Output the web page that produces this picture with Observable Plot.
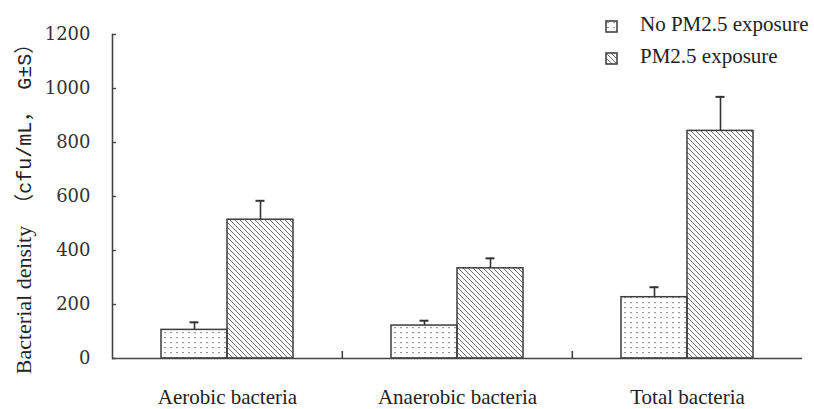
<!DOCTYPE html>
<html><head><meta charset="utf-8">
<script src="https://cdn.jsdelivr.net/npm/d3@7"></script>
<script src="https://cdn.jsdelivr.net/npm/@observablehq/plot@0.6"></script>
<style>
body{margin:0;background:#fff;}
#wrap{position:relative;width:814px;height:409px;overflow:hidden;}
#legend{position:absolute;left:605px;top:8px;font-family:"Liberation Serif",serif;font-size:21px;color:#222;line-height:32px;}
#legend .item{display:flex;align-items:center;white-space:nowrap;}
#legend svg{margin-right:21px;}
g[aria-label="y-axis tick label"] text{font-family:"DejaVu Serif",serif;}
</style></head><body>
<svg width="0" height="0" style="position:absolute">
  <defs>
    <pattern id="dots" patternUnits="userSpaceOnUse" width="6" height="5">
      <rect x="2" y="2" width="2" height="1.2" fill="#9a9a9a"></rect>
    </pattern>
    <pattern id="hatch" patternUnits="userSpaceOnUse" width="5" height="5">
      <path d="M0,0L5,5M-1,4L1,6M4,-1L6,1" stroke="#707070" stroke-width="1"></path>
    </pattern>
  </defs>
</svg>
<div id="wrap"></div>
<script>
const categories = ["Aerobic bacteria", "Anaerobic bacteria", "Total bacteria"];
const series = ["No PM2.5 exposure", "PM2.5 exposure"];
const noPM = [106, 122, 227];
const noPMErr = [28, 18, 37];
const pm = [514, 334, 843];
const pmErr = [70, 37, 126];
const yTicks = [0, 200, 400, 600, 800, 1000, 1200];
const yLabelMain = "Bacterial density";
const yLabelUnit = " （cfu/mL， G±S）";

const rows = [];
categories.forEach((c, i) => {
  rows.push({category: c, series: series[0], value: noPM[i], err: noPMErr[i]});
  rows.push({category: c, series: series[1], value: pm[i], err: pmErr[i]});
});

const chart = Plot.plot({
  width: 814, height: 409,
  marginLeft: 112, marginRight: 12, marginTop: 34, marginBottom: 51,
  style: {fontFamily: "'Liberation Serif', serif", fontSize: "21px", color: "#222", background: "#fff", overflow: "visible"},
  fx: {domain: categories, padding: 0, label: null},
  x: {domain: series, paddingInner: 0, paddingOuter: 0.742, align: 0.5, axis: null},
  y: {domain: [0, 1200], label: null},
  marks: [
    Plot.barY(rows.filter(d => d.series === series[0]), {fx: "category", x: "series", y: "value", fill: "url(#dots)", stroke: "#3c3c3c", strokeWidth: 1.5}),
    Plot.barY(rows.filter(d => d.series === series[1]), {fx: "category", x: "series", y: "value", fill: "url(#hatch)", stroke: "#3c3c3c", strokeWidth: 1.5}),
    Plot.ruleX(rows, {fx: "category", x: "series", y1: "value", y2: d => d.value + d.err, stroke: "#333", strokeWidth: 1.6}),
    Plot.tickY(rows, {fx: "category", x: "series", y: d => d.value + d.err, insetLeft: 28.5, insetRight: 28.5, stroke: "#333", strokeWidth: 2}),
    Plot.ruleY([0], {stroke: "#444", strokeWidth: 1.6}),
    Plot.frame({anchor: "left", facetAnchor: "left", stroke: "#444", strokeWidth: 1.6}),
    Plot.axisY({ticks: yTicks, tickSize: -4, tickPadding: 26, tickFormat: d3.format("d"), stroke: "#444", strokeWidth: 1.4, fontSize: 18, fill: "#333", label: null}),
    Plot.axisFx({anchor: "bottom", tickSize: 0, tickPadding: 31, fontSize: 21, fill: "#222", label: null}),
    Plot.axisFx({anchor: "bottom", ticks: categories.slice(0, 2), tickSize: -7, dx: 114.8, tickFormat: () => "", stroke: "#444", strokeWidth: 1.6, label: null})
  ]
});

const svg = d3.select(chart);
svg.selectAll('g[aria-label="y-axis tick label"]').attr("font-family", "'DejaVu Serif', serif");
const t = svg.append("text")
  .attr("transform", "translate(31,204) rotate(-90)")
  .attr("text-anchor", "middle")
  .attr("fill", "#222");
t.append("tspan").attr("font-family", "'Liberation Serif', serif").attr("font-size", 22).text(yLabelMain);
t.append("tspan").attr("font-family", "'Liberation Mono', 'Noto Sans CJK SC', monospace").attr("font-size", 20).text(yLabelUnit);

const wrap = document.getElementById("wrap");
wrap.appendChild(chart);

const legend = d3.select(wrap).append("div").attr("id", "legend");
[["url(#dots)", series[0]], ["url(#hatch)", series[1]]].forEach(([f, name]) => {
  const it = legend.append("div").attr("class", "item");
  const s = it.append("svg").attr("width", 14).attr("height", 14).style("margin-top", "6px");
  s.append("rect").attr("x", 1).attr("y", 1).attr("width", 11).attr("height", 11).attr("fill", f).attr("stroke", "#444").attr("stroke-width", 1.6);
  it.append("span").text(name);
});
</script>
</body></html>
